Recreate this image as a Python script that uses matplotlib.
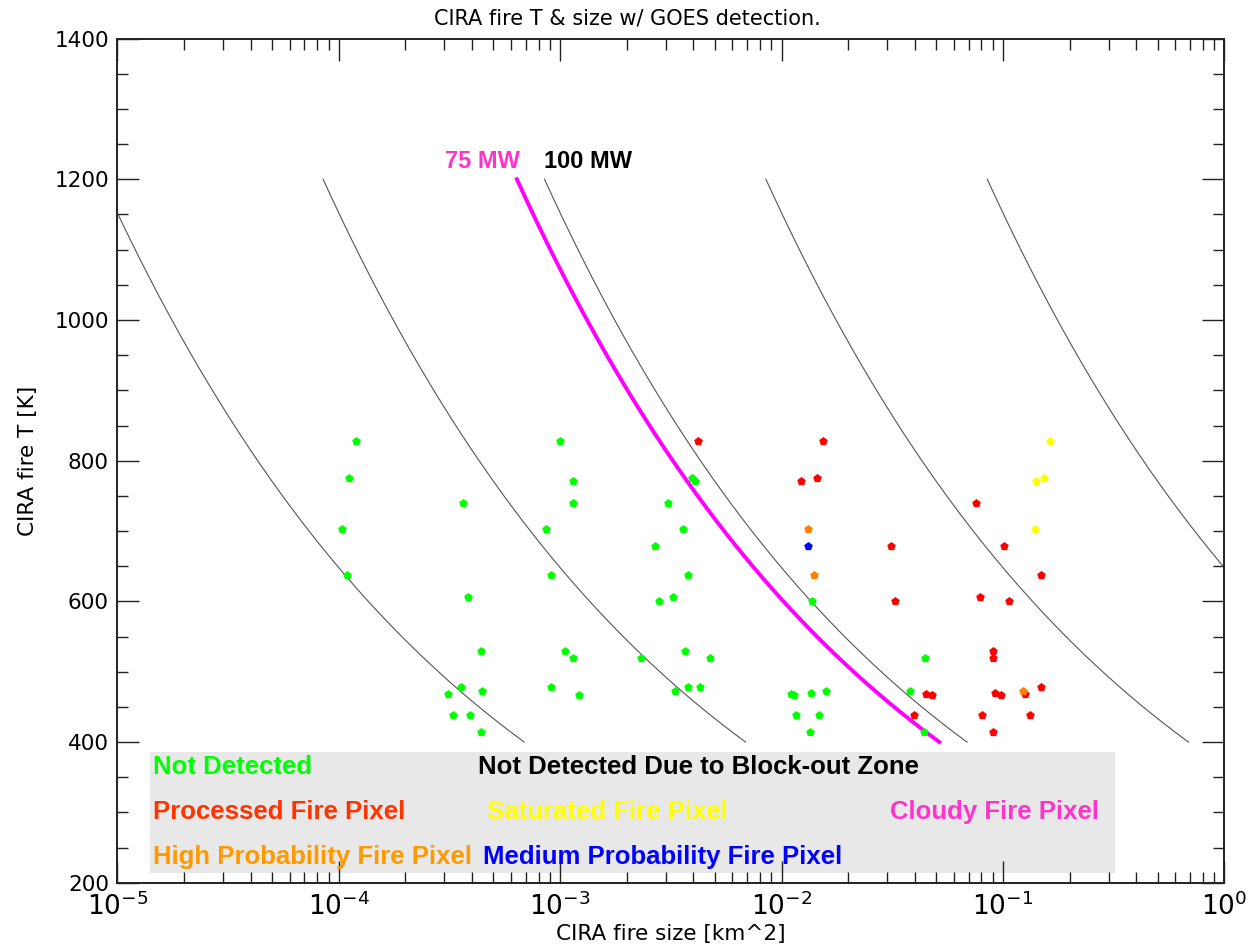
import numpy as np
import matplotlib
matplotlib.use("Agg")
import matplotlib.pyplot as plt
from matplotlib.patches import Rectangle

# ---------------- data ----------------
# iso-power curves (MW)
power_mw = [1, 10, 75, 100, 1000, 10000]
sigma = 5.67e-8

nd_size = [1.2e-4, 1.117e-4, 1.03e-4, 1.087e-4,
           3.63e-4, 3.83e-4, 4.37e-4, 3.55e-4, 3.11e-4, 4.42e-4, 3.27e-4, 3.9e-4, 4.37e-4,
           1.0e-3, 1.14e-3, 1.14e-3, 8.65e-4, 9.14e-4, 1.05e-3, 1.14e-3, 9.14e-4, 1.22e-3,
           3.96e-3, 4.05e-3, 3.07e-3, 3.59e-3, 2.69e-3, 3.8e-3, 2.81e-3, 3.23e-3, 2.31e-3,
           3.67e-3, 4.73e-3, 3.29e-3, 3.8e-3, 4.28e-3,
           0.0137, 0.01107, 0.0114, 0.0136, 0.01594, 0.01168, 0.01476, 0.01339,
           0.0447, 0.038, 0.0438]
nd_temp = [828, 776, 703, 638,
           740, 606, 529, 479, 468, 472, 439, 439, 415,
           828, 771, 740, 703, 638, 529, 520, 479, 467,
           776, 771, 740, 703, 679, 638, 601, 606, 520,
           529, 520, 472, 479, 479,
           601, 468, 467, 470, 472, 439, 439, 415,
           520, 472, 415]

proc_size = [4.19e-3, 0.0154, 0.0122, 0.01445, 0.0311, 0.0327, 0.045, 0.048, 0.0396,
             0.0757, 0.101, 0.1486, 0.0789, 0.1067, 0.0902, 0.0905, 0.0918, 0.0984,
             0.1253, 0.149, 0.0807, 0.132, 0.0902]
proc_temp = [828, 828, 771, 776, 679, 601, 468, 467, 439,
             740, 679, 638, 606, 601, 530, 520, 470, 467,
             468, 479, 439, 439, 415]

high_size = [0.01315, 0.01396, 0.1233]
high_temp = [703, 638, 472]

med_size = [0.01315]
med_temp = [679]

sat_size = [0.164, 0.1413, 0.1535, 0.140]
sat_temp = [828, 771, 776, 703]

legend_rows = [
    ("Not Detected", "#00ff00"),
    ("Not Detected Due to Block-out Zone", "#000000"),
    ("Processed Fire Pixel", "#ff3300"),
    ("Saturated Fire Pixel", "#ffff00"),
    ("Cloudy Fire Pixel", "#ff33cc"),
    ("High Probability Fire Pixel", "#ff9900"),
    ("Medium Probability Fire Pixel", "#0000ff"),
]

# ---------------- figure ----------------
W, H = 1252, 947
fig = plt.figure(figsize=(W / 100, H / 100), dpi=100)
L, R, T_, B = 117.3, 1224.3, 38.6, 882.8
ax = fig.add_axes([L / W, 1 - B / H, (R - L) / W, (B - T_) / H])

def px(xp, yp):
    """pixel -> axes fraction"""
    return (xp - L) / (R - L), (B - yp) / (B - T_)

ax.set_xscale("log")
ax.set_xlim(1e-5, 1)
ax.set_ylim(200, 1400)

temps = np.linspace(400, 1200, 300)
for p in power_mw:
    area = p * 1e6 / (sigma * temps ** 4) / 1e6
    if p == 75:
        ax.plot(area, temps, color="#ff00ff", lw=2.8, zorder=3)
    else:
        ax.plot(area, temps, color="#555555", lw=0.8, zorder=2)

ax.text(6.6e-4, 1225, "75 MW", color="#ff33cc", fontsize=17, fontweight="bold",
        family="Liberation Sans", ha="right", va="center")
ax.text(8.45e-4, 1225, "100 MW", color="black", fontsize=17, fontweight="bold",
        family="Liberation Sans", ha="left", va="center")

ms = 42
ax.scatter(nd_size, nd_temp, s=ms, marker="p", color="#00ff00", lw=0, zorder=4)
ax.scatter(proc_size, proc_temp, s=ms, marker="p", color="#ff0000", lw=0, zorder=4)
ax.scatter(high_size, high_temp, s=ms, marker="p", color="#ff8000", lw=0, zorder=5)
ax.scatter(med_size, med_temp, s=ms, marker="p", color="#0000ff", lw=0, zorder=5)
ax.scatter(sat_size, sat_temp, s=ms, marker="p", color="#ffff00", lw=0, zorder=5)

# legend box
x0, y0 = px(150, 873)
x1, y1 = px(1115, 752)
ax.add_patch(Rectangle((x0, y0), x1 - x0, y1 - y0, transform=ax.transAxes,
                       facecolor="#e8e8e8", edgecolor="none", zorder=1))
legend_pos = [(153, 767), (478, 767), (153, 812), (487, 812), (890, 812),
              (153, 857), (483, 857)]
for (txt, col), (xp, yp) in zip(legend_rows, legend_pos):
    fx, fy = px(xp, yp)
    ax.text(fx, fy, txt, color=col, fontsize=18.5, fontweight="bold",
            family="Liberation Sans", ha="left", va="center",
            transform=ax.transAxes, zorder=6)

# axes styling
ax.set_yticks(np.arange(200, 1401, 200))
ax.set_yticks(np.arange(200, 1401, 50), minor=True)
ax.tick_params(which="both", direction="in", top=True, right=True, color="#222222")
ax.tick_params(which="major", length=16, width=1.0)
ax.tick_params(which="minor", length=8, width=1.0)
ax.tick_params(axis="y", labelsize=15.5, pad=6)
ax.tick_params(axis="x", labelsize=19, pad=7)
for s in ax.spines.values():
    s.set_linewidth(1.4)
    s.set_color("#222222")

fig.text(627 / W, 1 - 19 / H, "CIRA fire T & size w/ GOES detection.", ha="center",
         va="center", fontsize=15)
ax.set_xlabel("CIRA fire size [km^2]", fontsize=15.5, labelpad=2)
ax.set_ylabel("CIRA fire T [K]", fontsize=15.5, labelpad=12)

fig.savefig("out.png", dpi=100)
